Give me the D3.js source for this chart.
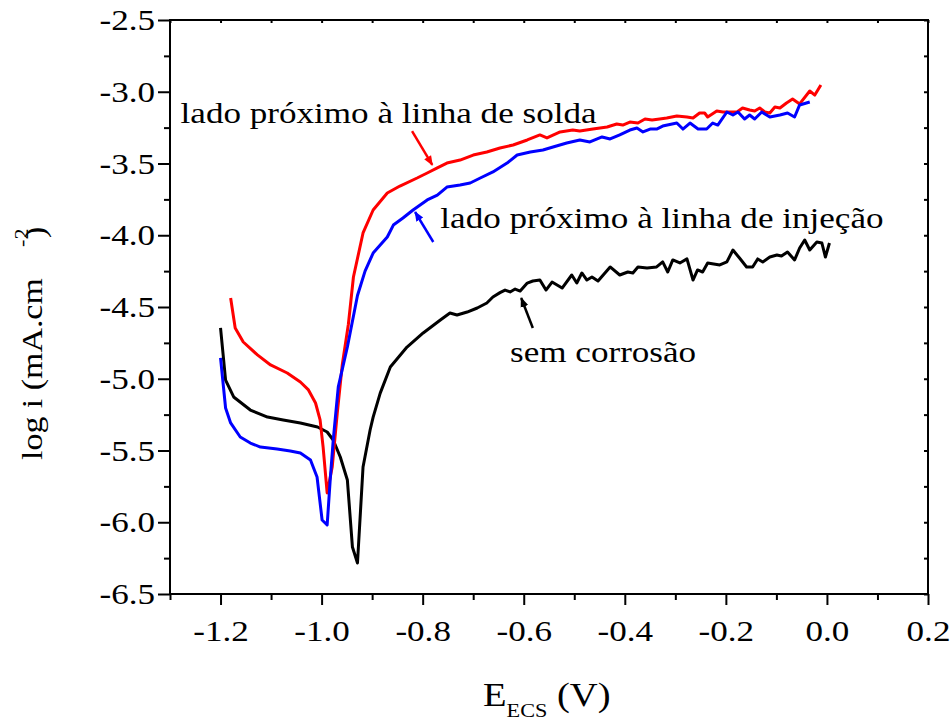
<!DOCTYPE html>
<html>
<head>
<meta charset="utf-8">
<script src="https://cdn.jsdelivr.net/npm/d3@7"></script>
<style>
  html, body { margin: 0; padding: 0; background: #fff; }
  svg text { font-family: "Liberation Serif", "Times New Roman", serif !important; fill: #000; }
</style>
</head>
<body>
<svg id="chart"></svg>
<script>
// tick values
const xMajor = [-1.2, -1.0, -0.8, -0.6, -0.4, -0.2, 0.0, 0.2];
const xMinor = [-1.3, -1.1, -0.9, -0.7, -0.5, -0.3, -0.1, 0.1];
const yMajor = [-2.5, -3.0, -3.5, -4.0, -4.5, -5.0, -5.5, -6.0, -6.5];
const yMinor = [-2.75, -3.25, -3.75, -4.25, -4.75, -5.25, -5.75, -6.25];

// series: [E (V), log i]
const semCorrosao = [
	[-1.200,-4.646],[-1.190,-5.009],[-1.174,-5.127],[-1.141,-5.218],[-1.107,-5.267],[-1.076,-5.287],
	[-1.042,-5.308],[-1.008,-5.336],[-0.989,-5.371],[-0.977,-5.427],[-0.963,-5.545],[-0.949,-5.706],
	[-0.939,-6.173],[-0.929,-6.284],[-0.918,-5.615],[-0.904,-5.357],[-0.898,-5.267],[-0.884,-5.100],
	[-0.864,-4.918],[-0.831,-4.779],[-0.799,-4.681],[-0.765,-4.591],[-0.746,-4.542],[-0.732,-4.556],
	[-0.712,-4.535],[-0.692,-4.507],[-0.673,-4.472],[-0.661,-4.430],[-0.647,-4.400],[-0.637,-4.382],
	[-0.627,-4.395],[-0.617,-4.375],[-0.607,-4.389],[-0.593,-4.333],[-0.582,-4.319],[-0.568,-4.312],
	[-0.556,-4.382],[-0.544,-4.326],[-0.524,-4.368],[-0.505,-4.277],[-0.495,-4.333],[-0.485,-4.263],
	[-0.475,-4.312],[-0.465,-4.291],[-0.453,-4.319],[-0.429,-4.221],[-0.410,-4.277],[-0.394,-4.256],
	[-0.384,-4.263],[-0.374,-4.221],[-0.356,-4.228],[-0.337,-4.221],[-0.325,-4.186],[-0.315,-4.256],
	[-0.305,-4.172],[-0.291,-4.193],[-0.277,-4.165],[-0.265,-4.312],[-0.256,-4.242],[-0.246,-4.256],
	[-0.236,-4.193],[-0.212,-4.207],[-0.198,-4.186],[-0.186,-4.103],[-0.173,-4.159],[-0.159,-4.221],
	[-0.147,-4.221],[-0.137,-4.165],[-0.127,-4.186],[-0.113,-4.152],[-0.099,-4.138],[-0.090,-4.145],
	[-0.078,-4.117],[-0.064,-4.172],[-0.054,-4.089],[-0.044,-4.033],[-0.034,-4.103],[-0.020,-4.047],
	[-0.010,-4.054],[-0.003,-4.152],[0.005,-4.054]
];

const linhaSolda = [
	[-1.180,-4.437],[-1.171,-4.646],[-1.155,-4.744],[-1.127,-4.834],[-1.101,-4.904],[-1.068,-4.960],
	[-1.042,-5.023],[-1.026,-5.078],[-1.012,-5.169],[-1.003,-5.287],[-0.997,-5.476],[-0.989,-5.796],
	[-0.979,-5.615],[-0.969,-5.239],[-0.959,-4.900],[-0.947,-4.620],[-0.937,-4.291],[-0.918,-3.984],
	[-0.898,-3.824],[-0.870,-3.706],[-0.845,-3.657],[-0.811,-3.601],[-0.791,-3.566],[-0.771,-3.531],
	[-0.752,-3.497],[-0.726,-3.476],[-0.700,-3.441],[-0.673,-3.420],[-0.647,-3.392],[-0.621,-3.371],
	[-0.593,-3.336],[-0.568,-3.301],[-0.554,-3.322],[-0.528,-3.280],[-0.503,-3.267],[-0.489,-3.274],
	[-0.463,-3.260],[-0.435,-3.246],[-0.416,-3.225],[-0.404,-3.232],[-0.390,-3.211],[-0.374,-3.218],
	[-0.360,-3.190],[-0.346,-3.197],[-0.331,-3.190],[-0.317,-3.183],[-0.297,-3.169],[-0.277,-3.176],
	[-0.265,-3.183],[-0.252,-3.148],[-0.242,-3.148],[-0.236,-3.176],[-0.218,-3.134],[-0.206,-3.141],
	[-0.192,-3.141],[-0.178,-3.141],[-0.167,-3.113],[-0.153,-3.127],[-0.143,-3.134],[-0.133,-3.113],
	[-0.123,-3.141],[-0.113,-3.148],[-0.103,-3.106],[-0.093,-3.113],[-0.080,-3.078],[-0.068,-3.051],
	[-0.054,-3.085],[-0.034,-2.995],[-0.024,-3.023],[-0.012,-2.953]
];

const linhaInjecao = [
	[-1.200,-4.855],[-1.190,-5.204],[-1.180,-5.308],[-1.161,-5.406],[-1.141,-5.448],[-1.121,-5.476],
	[-1.088,-5.490],[-1.062,-5.503],[-1.042,-5.517],[-1.022,-5.566],[-1.009,-5.685],[-0.999,-5.984],
	[-0.989,-6.019],[-0.983,-5.706],[-0.977,-5.427],[-0.967,-5.057],[-0.949,-4.779],[-0.929,-4.420],
	[-0.914,-4.250],[-0.898,-4.124],[-0.870,-4.012],[-0.858,-3.929],[-0.839,-3.880],[-0.819,-3.824],
	[-0.791,-3.754],[-0.771,-3.720],[-0.752,-3.664],[-0.726,-3.650],[-0.706,-3.636],[-0.686,-3.601],
	[-0.661,-3.559],[-0.633,-3.497],[-0.613,-3.441],[-0.587,-3.420],[-0.562,-3.406],[-0.542,-3.385],
	[-0.515,-3.357],[-0.489,-3.336],[-0.469,-3.350],[-0.445,-3.315],[-0.429,-3.329],[-0.410,-3.301],
	[-0.390,-3.267],[-0.376,-3.253],[-0.364,-3.280],[-0.350,-3.260],[-0.337,-3.260],[-0.325,-3.239],
	[-0.297,-3.218],[-0.285,-3.260],[-0.271,-3.218],[-0.255,-3.260],[-0.238,-3.260],[-0.226,-3.218],
	[-0.216,-3.232],[-0.198,-3.141],[-0.186,-3.162],[-0.176,-3.141],[-0.163,-3.190],[-0.153,-3.162],
	[-0.143,-3.190],[-0.129,-3.141],[-0.113,-3.176],[-0.093,-3.162],[-0.078,-3.148],[-0.064,-3.176],
	[-0.054,-3.092],[-0.034,-3.071]
];

// label text, anchor point and arrow (from -> to) in data units
const labels = [
	{ text: 'lado próximo à linha de solda', color: '#ff0000', at: [-1.279, -3.218], from: [-0.821, -3.274], to: [-0.781, -3.510] },
	{ text: 'lado próximo à linha de injeção', color: '#0000ff', at: [-0.765, -3.949], from: [-0.779, -4.047], to: [-0.815, -3.838] },
	{ text: 'sem corrosão', color: '#000000', at: [-0.627, -4.883], from: [-0.582, -4.646], to: [-0.605, -4.437] }
];

const width = 952,
	height = 722,
	margin = { top: 20, right: 24, bottom: 128, left: 170 },
	stretch = 1.17,
	serif = '"Liberation Serif", "Times New Roman", serif';

const svg = d3.select('#chart').attr('width', width).attr('height', height)
	.attr('font-family', serif);

const x = d3.scaleLinear().domain([-1.3, 0.2]).range([margin.left, width - margin.right]);
const y = d3.scaleLinear().domain([-6.5, -2.5]).range([height - margin.bottom, margin.top]);

const fmt = v => (Math.abs(v) < 1e-9 ? 0 : v).toFixed(1);

// bottom axis
const xAxis = svg.append('g').attr('transform', `translate(0,${y(-6.5)})`)
	.call(d3.axisBottom(x).tickValues(xMajor).tickFormat(fmt).tickSize(11).tickSizeOuter(0));
svg.append('g').attr('transform', `translate(0,${y(-6.5)})`)
	.call(d3.axisBottom(x).tickValues(xMinor).tickFormat('').tickSize(6).tickSizeOuter(0));

// left axis
const yAxis = svg.append('g').attr('transform', `translate(${x(-1.3)},0)`)
	.call(d3.axisLeft(y).tickValues(yMajor).tickFormat(fmt).tickSize(12).tickSizeOuter(0));
svg.append('g').attr('transform', `translate(${x(-1.3)},0)`)
	.call(d3.axisLeft(y).tickValues(yMinor).tickFormat('').tickSize(6).tickSizeOuter(0));

// top and right: small inner ticks
svg.append('g').attr('transform', `translate(0,${y(-2.5)})`)
	.call(d3.axisBottom(x).tickValues(xMajor.concat(xMinor)).tickFormat('').tickSize(3).tickSizeOuter(0));
svg.append('g').attr('transform', `translate(${x(0.2)},0)`)
	.call(d3.axisLeft(y).tickValues(yMajor.concat(yMinor)).tickFormat('').tickSize(4).tickSizeOuter(0));

svg.selectAll('.domain').remove();
svg.selectAll('.tick line').attr('stroke', '#000').attr('stroke-width', 2);
svg.selectAll('g').attr('font-family', serif);

xAxis.selectAll('text')
	.attr('font-size', 30).attr('y', 26).attr('dy', '0.71em')
	.attr('transform', `scale(${stretch},1)`);
yAxis.selectAll('text')
	.attr('font-size', 30).attr('x', -15 / stretch)
	.attr('transform', `scale(${stretch},1)`);

// frame
svg.append('rect')
	.attr('x', x(-1.3)).attr('y', y(-2.5))
	.attr('width', x(0.2) - x(-1.3)).attr('height', y(-6.5) - y(-2.5))
	.attr('fill', 'none').attr('stroke', '#000').attr('stroke-width', 2);

// curves
const line = d3.line().x(d => x(d[0])).y(d => y(d[1]));
[[semCorrosao, '#000000'], [linhaSolda, '#ff0000'], [linhaInjecao, '#0000ff']].forEach(([data, color]) => {
	svg.append('path').datum(data)
		.attr('d', line)
		.attr('fill', 'none')
		.attr('stroke', color)
		.attr('stroke-width', 3)
		.attr('stroke-linejoin', 'round');
});

// arrows + labels
const defs = svg.append('defs');
labels.forEach((l, i) => {
	defs.append('marker')
		.attr('id', 'arrow' + i)
		.attr('viewBox', '0 0 10 10')
		.attr('refX', 9).attr('refY', 5)
		.attr('markerWidth', 10).attr('markerHeight', 10)
		.attr('markerUnits', 'userSpaceOnUse')
		.attr('orient', 'auto')
		.append('path').attr('d', 'M0,1 L10,5 L0,9 Z').attr('fill', l.color);

	svg.append('line')
		.attr('x1', x(l.from[0])).attr('y1', y(l.from[1]))
		.attr('x2', x(l.to[0])).attr('y2', y(l.to[1]))
		.attr('stroke', l.color).attr('stroke-width', 2.5)
		.attr('marker-end', `url(#arrow${i})`);

	svg.append('text')
		.attr('transform', `translate(${x(l.at[0])},${y(l.at[1])}) scale(${stretch},1)`)
		.attr('font-size', 30)
		.text(l.text);
});

// axis titles
const xt = svg.append('text')
	.attr('transform', `translate(483,706) scale(${stretch},1)`)
	.attr('font-size', 33);
xt.append('tspan').text('E');
xt.append('tspan').attr('font-size', 19).attr('dy', 11).text('ECS');
xt.append('tspan').attr('dy', -11).text(' (V)');

svg.append('text')
	.attr('transform', `translate(42,460) rotate(-90) scale(${stretch},1)`)
	.attr('font-size', 29)
	.text('log i (mA.cm');
svg.append('text')
	.attr('transform', `translate(28,247) rotate(-90) scale(${stretch},1)`)
	.attr('font-size', 19)
	.text('-2');
svg.append('text')
	.attr('transform', `translate(45,238) rotate(-90) scale(${stretch},1)`)
	.attr('font-size', 29)
	.text(')');
</script>
</body>
</html>
